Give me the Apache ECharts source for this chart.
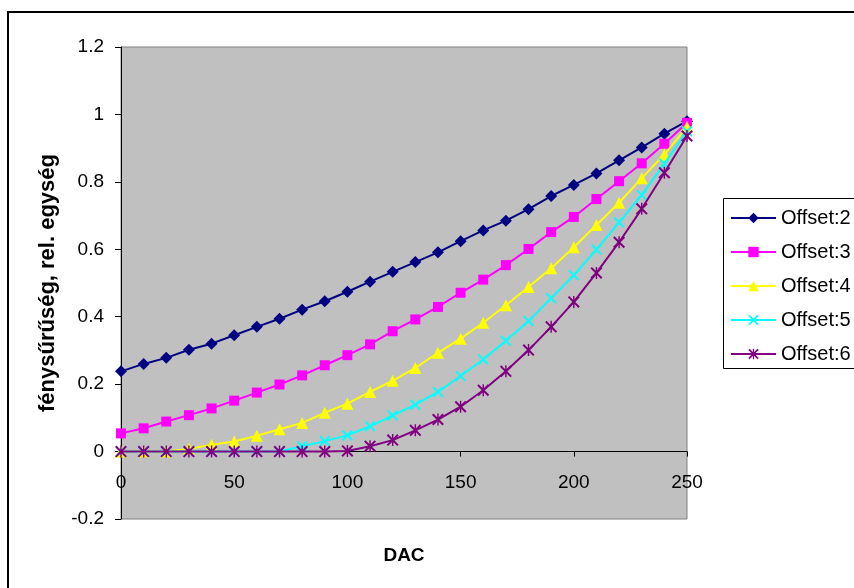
<!DOCTYPE html>
<html>
<head>
<meta charset="utf-8">
<script src="https://cdn.jsdelivr.net/npm/echarts@6/dist/echarts.min.js"></script>
<style>
html,body{margin:0;padding:0;background:#fff;}
#c{width:854px;height:588px;}
</style>
</head>
<body>
<div id="c"></div>
<script>
var dac = [0,10,20,30,40,50,60,70,80,90,100,110,120,130,140,150,160,170,180,190,200,210,220,230,240,250];
var offset2 = [0.238,0.260,0.278,0.302,0.320,0.345,0.370,0.394,0.421,0.446,0.474,0.504,0.533,0.562,0.591,0.624,0.656,0.685,0.719,0.758,0.791,0.825,0.864,0.902,0.943,0.980];
var offset3 = [0.054,0.069,0.089,0.108,0.128,0.151,0.175,0.199,0.226,0.256,0.286,0.318,0.357,0.392,0.429,0.471,0.510,0.553,0.601,0.651,0.696,0.749,0.802,0.855,0.913,0.975];
var offset4 = [0,0,0,0.008,0.020,0.030,0.047,0.066,0.085,0.115,0.142,0.177,0.210,0.248,0.293,0.335,0.382,0.434,0.488,0.544,0.606,0.672,0.738,0.811,0.881,0.963];
var offset5 = [0,0,0,0,0,0,0,0,0.016,0.031,0.048,0.075,0.107,0.139,0.177,0.224,0.273,0.329,0.387,0.455,0.523,0.599,0.680,0.761,0.854,0.950];
var offset6 = [0,0,0,0,0,0,0,0,0,0,0.002,0.016,0.034,0.063,0.095,0.133,0.182,0.238,0.301,0.370,0.444,0.530,0.621,0.720,0.827,0.936];
var seriesNames = ['Offset:2','Offset:3','Offset:4','Offset:5','Offset:6'];
var yTitle = 'fénysűrűség, rel. egység';
var xTitle = 'DAC';

var colors = ['#000080','#FF00FF','#FFFF00','#00FFFF','#800080'];
var xPath = 'path://M0,1.2 L1.2,0 L5,3.8 L8.8,0 L10,1.2 L6.2,5 L10,8.8 L8.8,10 L5,6.2 L1.2,10 L0,8.8 L3.8,5 Z';
var starPath = 'path://M0,1.2 L1.2,0 L5,3.8 L8.8,0 L10,1.2 L6.2,5 L10,8.8 L8.8,10 L5,6.2 L1.2,10 L0,8.8 L3.8,5 Z M4.4,0 L5.6,0 L5.6,10 L4.4,10 Z';
var symbols = ['diamond','rect','triangle',xPath,starPath];
var sizes = [12,10,12,11,12];
var dataSets = [offset2,offset3,offset4,offset5,offset6];

function pairs(arr){ return dac.map(function(x,i){ return [x, arr[i]]; }); }

var FONT = 'Liberation Sans, Arial, sans-serif';
var series = dataSets.map(function(d,i){
  return {
    name: seriesNames[i], type:'line', data: pairs(d),
    symbol: symbols[i], symbolSize: sizes[i], showAllSymbol:true,
    lineStyle:{color:colors[i], width:2},
    itemStyle:{color:colors[i], borderWidth:0},
    animation:false, z: 2+i
  };
});

var GRID_H = 472;
var chart = echarts.init(document.getElementById('c'), null, {renderer:'canvas'});
chart.setOption({
  animation:false,
  backgroundColor:'#ffffff',
  grid:{left:121, top:47, width:566, height:GRID_H, show:true, backgroundColor:'#C0C0C0', borderColor:'#808080', borderWidth:1},
  xAxis:{type:'value', min:0, max:250, interval:50, position:'bottom',
    offset: -GRID_H*0.2/1.4,
    axisLine:{onZero:false, lineStyle:{color:'#000', width:1}},
    axisTick:{show:true, length:5, inside:false, lineStyle:{color:'#000'}},
    axisLabel:{color:'#000', fontSize:19, fontFamily:FONT, margin:22},
    splitLine:{show:false}},
  yAxis:{type:'value', min:-0.2, max:1.2, interval:0.2,
    axisLine:{show:true, onZero:false, lineStyle:{color:'#000', width:1}},
    axisTick:{show:true, length:6, lineStyle:{color:'#000'}},
    axisLabel:{color:'#000', fontSize:19, fontFamily:FONT, margin:17,
      formatter:function(v){ return String(Math.round(v*10)/10); }},
    splitLine:{show:false}},
  legend:{orient:'vertical', left:730, top:208, padding:0, itemGap:14,
    itemWidth:45, itemHeight:13,
    textStyle:{color:'#000', fontSize:20, fontFamily:FONT},
    data: seriesNames},
  series: series,
  graphic:[
    {type:'rect', silent:true, shape:{x:8, y:12, width:900, height:640}, style:{fill:null, stroke:'#000', lineWidth:2}, z:-10},
    {type:'rect', silent:true, shape:{x:723.5, y:198.5, width:200, height:170}, style:{fill:'#fff', stroke:'#000', lineWidth:1}, z:-5},
    {type:'text', silent:true, x:48, y:283, rotation:Math.PI/2, style:{text:yTitle, font:'bold 22px '+FONT, fill:'#000', align:'center', verticalAlign:'middle'}},
    {type:'text', silent:true, x:404, y:556, style:{text:xTitle, font:'bold 19px '+FONT, fill:'#000', align:'center', verticalAlign:'middle'}}
  ]
});
</script>
</body>
</html>
